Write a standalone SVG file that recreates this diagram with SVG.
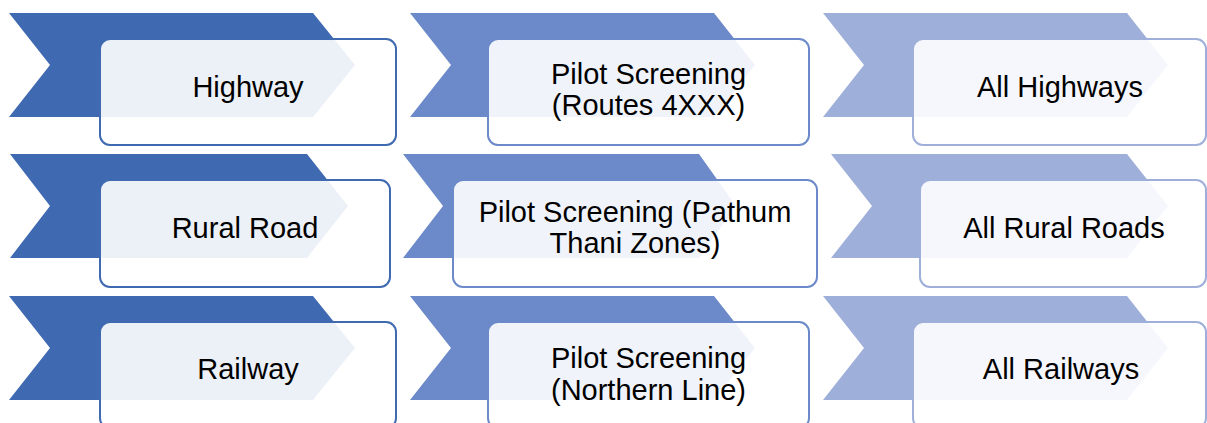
<svg xmlns="http://www.w3.org/2000/svg" width="1207" height="423" viewBox="0 0 1207 423">
  <style>
    .c1 { fill: #3F69B1; }
    .c2 { fill: #6C8AC9; }
    .c3 { fill: #9EAFD9; }
    .box { fill: #FFFFFF; fill-opacity: 0.9; stroke-width: 2; }
    .b1 { stroke: #3F69B1; }
    .b2 { stroke: #6C8AC9; }
    .b3 { stroke: #9EAFD9; }
    .lbl { font-family: "Liberation Sans", Arial, sans-serif; font-size: 29px; fill: #000000; text-anchor: middle; }
  </style>

  <!-- Row 1: Highway -->
  <g id="highway">
    <polygon class="c1" points="9,13 313,13 355,65 313,117 9,117 50,65"/>
    <rect class="box b1" x="100" y="39" width="296" height="106" rx="10"/>
    <text class="lbl" x="248" y="97">Highway</text>
  </g>
  <g id="highway-pilot">
    <polygon class="c2" points="410,13 714,13 755,65 714,117 410,117 451,65"/>
    <rect class="box b2" x="488" y="39" width="321" height="106" rx="10"/>
    <text class="lbl" x="648.5" y="84">Pilot Screening</text>
    <text class="lbl" x="648.5" y="115">(Routes 4XXX)</text>
  </g>
  <g id="highway-all">
    <polygon class="c3" points="823,13 1127,13 1168,65 1127,117 823,117 864,65"/>
    <rect class="box b3" x="913" y="39" width="293" height="106" rx="10"/>
    <text class="lbl" x="1060" y="97">All Highways</text>
  </g>

  <!-- Row 2: Rural Road -->
  <g id="rural">
    <polygon class="c1" points="10,154 307,154 348,206 307,258 10,258 50,206"/>
    <rect class="box b1" x="100" y="180" width="290" height="107" rx="10"/>
    <text class="lbl" x="245" y="238">Rural Road</text>
  </g>
  <g id="rural-pilot">
    <polygon class="c2" points="403,154 699,154 736,206 699,258 403,258 443,206"/>
    <rect class="box b2" x="453" y="180" width="364" height="107" rx="10"/>
    <text class="lbl" x="635" y="222">Pilot Screening (Pathum</text>
    <text class="lbl" x="635" y="253">Thani Zones)</text>
  </g>
  <g id="rural-all">
    <polygon class="c3" points="831,154 1127,154 1168,206 1127,258 831,258 872,206"/>
    <rect class="box b3" x="920" y="180" width="286" height="107" rx="10"/>
    <text class="lbl" x="1064" y="238">All Rural Roads</text>
  </g>

  <!-- Row 3: Railway -->
  <g id="railway">
    <polygon class="c1" points="9,296 313,296 355,348 313,400 9,400 50,348"/>
    <rect class="box b1" x="100" y="322" width="296" height="106" rx="10"/>
    <text class="lbl" x="248" y="379">Railway</text>
  </g>
  <g id="railway-pilot">
    <polygon class="c2" points="410,296 714,296 755,348 714,400 410,400 451,348"/>
    <rect class="box b2" x="488" y="322" width="321" height="106" rx="10"/>
    <text class="lbl" x="648.5" y="368">Pilot Screening</text>
    <text class="lbl" x="648.5" y="400">(Northern Line)</text>
  </g>
  <g id="railway-all">
    <polygon class="c3" points="823,296 1127,296 1168,348 1127,400 823,400 864,348"/>
    <rect class="box b3" x="913" y="322" width="293" height="106" rx="10"/>
    <text class="lbl" x="1061" y="379">All Railways</text>
  </g>

  <!-- no connectors in this layout -->
  <g id="connectors"/>
</svg>
